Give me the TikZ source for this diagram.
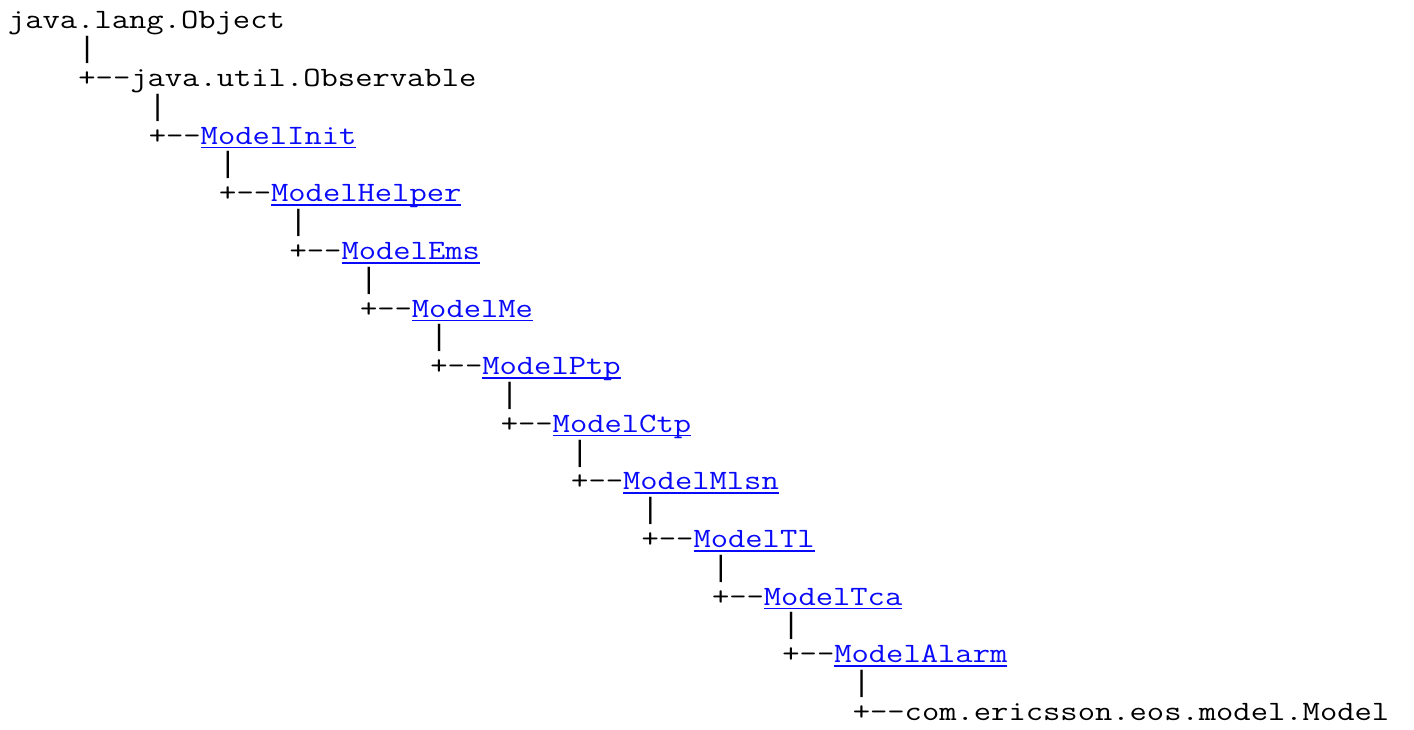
\documentclass[tikz,border=0pt]{standalone}
\usepackage{fontspec}
\setmonofont{Latin Modern Mono}[FakeStretch=1.2]
\newfontfamily\barfont{Liberation Mono}
\usepackage{xcolor}
\usepackage{tikz}
\usetikzlibrary{positioning}
\definecolor{ink}{HTML}{000000}
\definecolor{link}{HTML}{0A0AFA}
\tikzset{
  txt/.style={inner sep=0pt,outer sep=0pt,anchor=base west,font=\fontsize{28}{28.8}\selectfont\ttfamily,text=ink},
  cls/.style={txt},
  lnk/.style={txt,text=link},
  vbar/.style={txt,font=\fontsize{29.3}{28.8}\selectfont\barfont},
  uline/.style={draw=link,line width=1.7pt},
}
\begin{document}
\begin{tikzpicture}[x=1pt,y=1pt]
\fill[white] (0,0) rectangle (1414,-730);
\useasboundingbox (0,0) rectangle (1414,-730);
\node[cls] (c0) at (8,-29) {java.lang.Object};
% one level per subclass: bar, tee, class name
\foreach \i/\name/\kind in {1/java.util.Observable/cls,2/ModelInit/lnk,3/ModelHelper/lnk,
  4/ModelEms/lnk,5/ModelMe/lnk,6/ModelPtp/lnk,7/ModelCtp/lnk,8/ModelMlsn/lnk,
  9/ModelTl/lnk,10/ModelTca/lnk,11/ModelAlarm/lnk,12/com.ericsson.eos.model.Model/cls}{
  \node[vbar] (bar\i) at ({8+70.4*\i},{-29-57.6*\i+28.8}) {|};
  \node[txt] (tee\i) at ({8+70.4*\i},{-29-57.6*\i}) {+--};
  \node[\kind] (c\i) at (tee\i.base east) {\name};
}
\foreach \i in {2,...,11}
  \draw[uline] ([yshift=-3.4pt]c\i.base west) -- ([yshift=-3.4pt]c\i.base east);
\end{tikzpicture}
\end{document}
